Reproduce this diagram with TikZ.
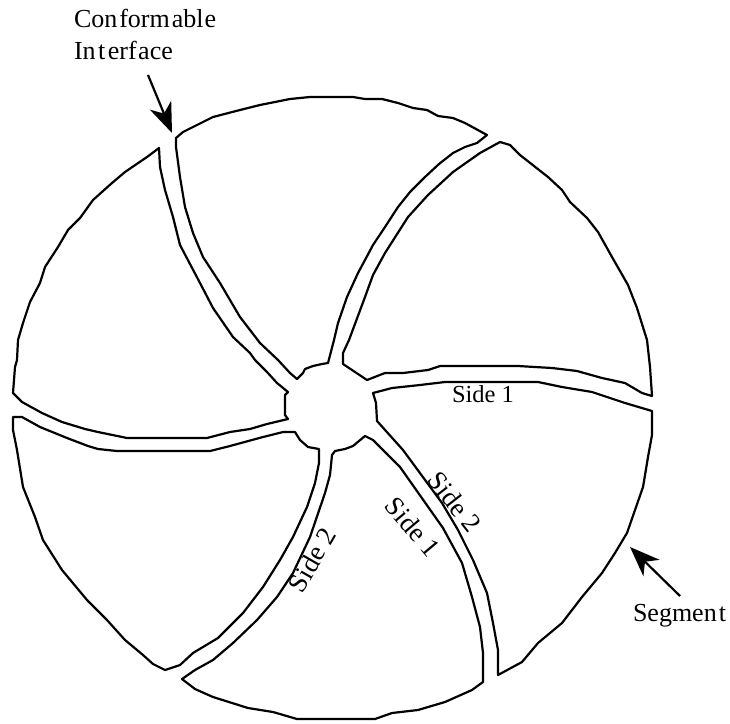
\documentclass[tikz,border=0pt]{standalone}
\usepackage{fontspec}
\setmainfont{Liberation Serif}
\usetikzlibrary{arrows.meta}
\tikzset{
  segline/.style={draw=black,line width=2.2pt,line join=round,line cap=round},
  lab/.style={inner sep=0pt,outer sep=0pt,anchor=base west,font=\fontsize{26}{26}\selectfont},
  sidelab/.style={inner sep=0pt,outer sep=0pt,anchor=center,font=\fontsize{27}{27}\selectfont},
  pointer/.style={draw=black,line width=2.2pt,-{Stealth[length=30pt,width=23pt,inset=9pt]}}
}
\begin{document}
\begin{tikzpicture}[x=1pt,y=-1pt]
\useasboundingbox (0,0) rectangle (730,723);
% top segment
\draw[segline] (176,138)--(183,132)--(213,117)--(240,110)--(260,105)--(290,99)--(310,97)--(353,97)--(365,99)--(382,99)--(398,103)--(413,108)--(427,110)--(438,116)--(453,118)--(465,123)--(487,135)--(477,143)--(465,147)--(453,153)--(439,164)--(425,177)--(410,192)--(398,207)--(385,227)--(373,245)--(365,260)--(358,273)--(347,297)--(338,323)--(334,340)--(328,363)--(322,364)--(313,366)--(305,369)--(303,373)--(297,379)--(290,373)--(278,360)--(260,343)--(240,317)--(220,283)--(203,257)--(193,233)--(185,207)--(180,177)--(176,147)--cycle;
% upper left segment
\draw[segline] (159,148)--(147,157)--(125,172)--(112,183)--(93,200)--(80,218)--(68,230)--(58,247)--(45,267)--(40,283)--(30,302)--(23,323)--(18,340)--(17,360)--(15,367)--(13,393)--(22,402)--(42,413)--(62,422)--(85,429)--(98,432)--(127,438)--(207,438)--(230,432)--(250,429)--(267,424)--(288,419)--(285,415)--(285,395)--(288,392)--(277,383)--(267,372)--(255,360)--(250,353)--(233,337)--(213,308)--(200,283)--(180,245)--(173,217)--(165,190)--(160,167)--cycle;
% lower left segment
\draw[segline] (13,417)--(22,417)--(40,427)--(67,438)--(88,446)--(98,449)--(117,451)--(210,451)--(230,446)--(263,437)--(283,432)--(295,432)--(300,440)--(308,447)--(319,449)--(319,463)--(315,483)--(307,507)--(293,537)--(280,560)--(263,587)--(243,613)--(218,638)--(193,653)--(180,665)--(165,670)--(153,664)--(143,655)--(125,640)--(107,620)--(87,600)--(62,570)--(43,540)--(35,517)--(23,487)--(17,450)--(13,430)--cycle;
% bottom segment
\draw[segline] (182,679)--(195,670)--(213,660)--(233,643)--(257,620)--(277,597)--(293,573)--(310,537)--(325,493)--(330,475)--(332,455)--(335,451)--(345,449)--(353,446)--(365,436)--(373,440)--(400,467)--(443,528)--(462,563)--(472,597)--(480,627)--(483,653)--(483,682)--(472,690)--(445,702)--(418,710)--(392,713)--(375,719)--(297,719)--(273,712)--(248,708)--(213,697)--(195,689)--cycle;
% lower right segment
\draw[segline] (373,393)--(392,388)--(420,385)--(445,382)--(538,382)--(562,387)--(592,392)--(625,403)--(652,411)--(652,435)--(648,457)--(643,487)--(635,510)--(627,533)--(615,553)--(602,573)--(582,597)--(562,623)--(538,643)--(522,662)--(498,675)--(498,650)--(493,623)--(487,593)--(473,560)--(458,530)--(442,503)--(403,450)--(377,421)--(376,403)--cycle;
% upper right segment
\draw[segline] (500,142)--(510,145)--(520,155)--(548,177)--(562,190)--(570,202)--(587,218)--(598,232)--(612,257)--(628,285)--(637,308)--(647,340)--(650,367)--(652,396)--(642,393)--(625,383)--(602,378)--(577,371)--(552,368)--(518,366)--(440,366)--(428,370)--(403,373)--(385,373)--(367,380)--(343,364)--(343,353)--(349,340)--(365,297)--(373,275)--(385,253)--(408,217)--(428,195)--(453,172)--(480,153)--cycle;
% labels
\node[lab] (conf) at (74,27) {Con\kern2pt form\kern2pt abl\kern1pt e};
\node[lab] (intf) at (74,59) {In\kern2.5pt t\kern2.5pt erf\kern1.5pt ace};
\node[lab] (segm) at (633,621) {Segmen\kern2pt t};
\node[lab] (sa) at (452,402) {\fontsize{24.5}{24.5}\selectfont Side 1};
\node[sidelab,rotate=60] (sb) at (312,560) {Side 2};
\node[sidelab,rotate=-52] (sc) at (455,502) {Side 2};
\node[sidelab,rotate=-50] (sd) at (413,527) {Side 1};
% arrows
\coordinate (ct) at (148,75);
\coordinate (ch) at (172,133);
\coordinate (st) at (680,596);
\coordinate (sh) at (630,547);
\draw[pointer] (ct)--(ch);
\draw[pointer] (st)--(sh);
\end{tikzpicture}
\end{document}
